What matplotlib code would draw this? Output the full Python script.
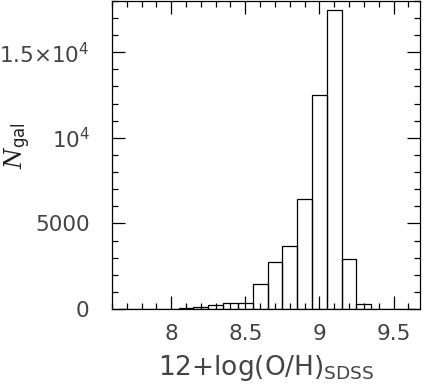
import numpy as np
import matplotlib
matplotlib.use("Agg")
import matplotlib.pyplot as plt
from matplotlib.ticker import MultipleLocator, FuncFormatter

# bin centres of 12+log(O/H) and number of galaxies per bin (bin width 0.1)
oh = [7.7, 7.8, 7.9, 8.0, 8.1, 8.2, 8.3, 8.4, 8.5, 8.6,
      8.7, 8.8, 8.9, 9.0, 9.1, 9.2, 9.3, 9.4, 9.5, 9.6]
ngal = [0, 0, 5, 15, 50, 120, 230, 330, 340, 1480,
        2740, 3670, 6450, 12500, 17480, 2900, 270, 30, 5, 0]

plt.rcParams["font.family"] = ["DejaVu Sans"]
plt.rcParams["mathtext.fontset"] = "custom"
plt.rcParams["mathtext.rm"] = "DejaVu Sans"
plt.rcParams["mathtext.it"] = "DejaVu Serif:italic"

fig = plt.figure(figsize=(4.24, 3.84), dpi=100)
ax = fig.add_axes([0.264, 0.195, 0.727, 0.803])

ax.bar(oh, ngal, width=0.1, fill=False, edgecolor="black", linewidth=0.9)

ax.set_xlim(7.6, 9.68)
ax.set_ylim(0, 18000)

ax.xaxis.set_major_locator(MultipleLocator(0.5))
ax.xaxis.set_minor_locator(MultipleLocator(0.1))
ax.yaxis.set_major_locator(MultipleLocator(5000))
ax.yaxis.set_minor_locator(MultipleLocator(1000))


def yfmt(v, pos):
    if v == 0:
        return "0"
    if v == 5000:
        return "5000"
    if v == 10000:
        return "10$^{4}$"
    if v == 15000:
        return "1.5$\\times$10$^{4}$"
    return ""


ax.yaxis.set_major_formatter(FuncFormatter(yfmt))
ax.xaxis.set_major_formatter(FuncFormatter(lambda v, p: "%g" % v))

ax.tick_params(which="both", direction="in", top=True, right=True,
               labelsize=15.5, labelcolor="#444444", width=0.9)
ax.tick_params(which="major", length=9.2)
ax.tick_params(which="minor", length=4.6)
ax.tick_params(axis="y", pad=16)
ax.tick_params(axis="x", pad=11)
for s in ax.spines.values():
    s.set_linewidth(0.9)

ax.set_xlabel("12+log(O/H)$_{\\rm SDSS}$", fontsize=19, color="#444444",
              labelpad=6)
ax.set_ylabel("$N_{\\rm gal}$", fontsize=17, color="#222222")
ax.yaxis.set_label_coords(-0.255, 0.53)

fig.savefig("out.png", dpi=100)
